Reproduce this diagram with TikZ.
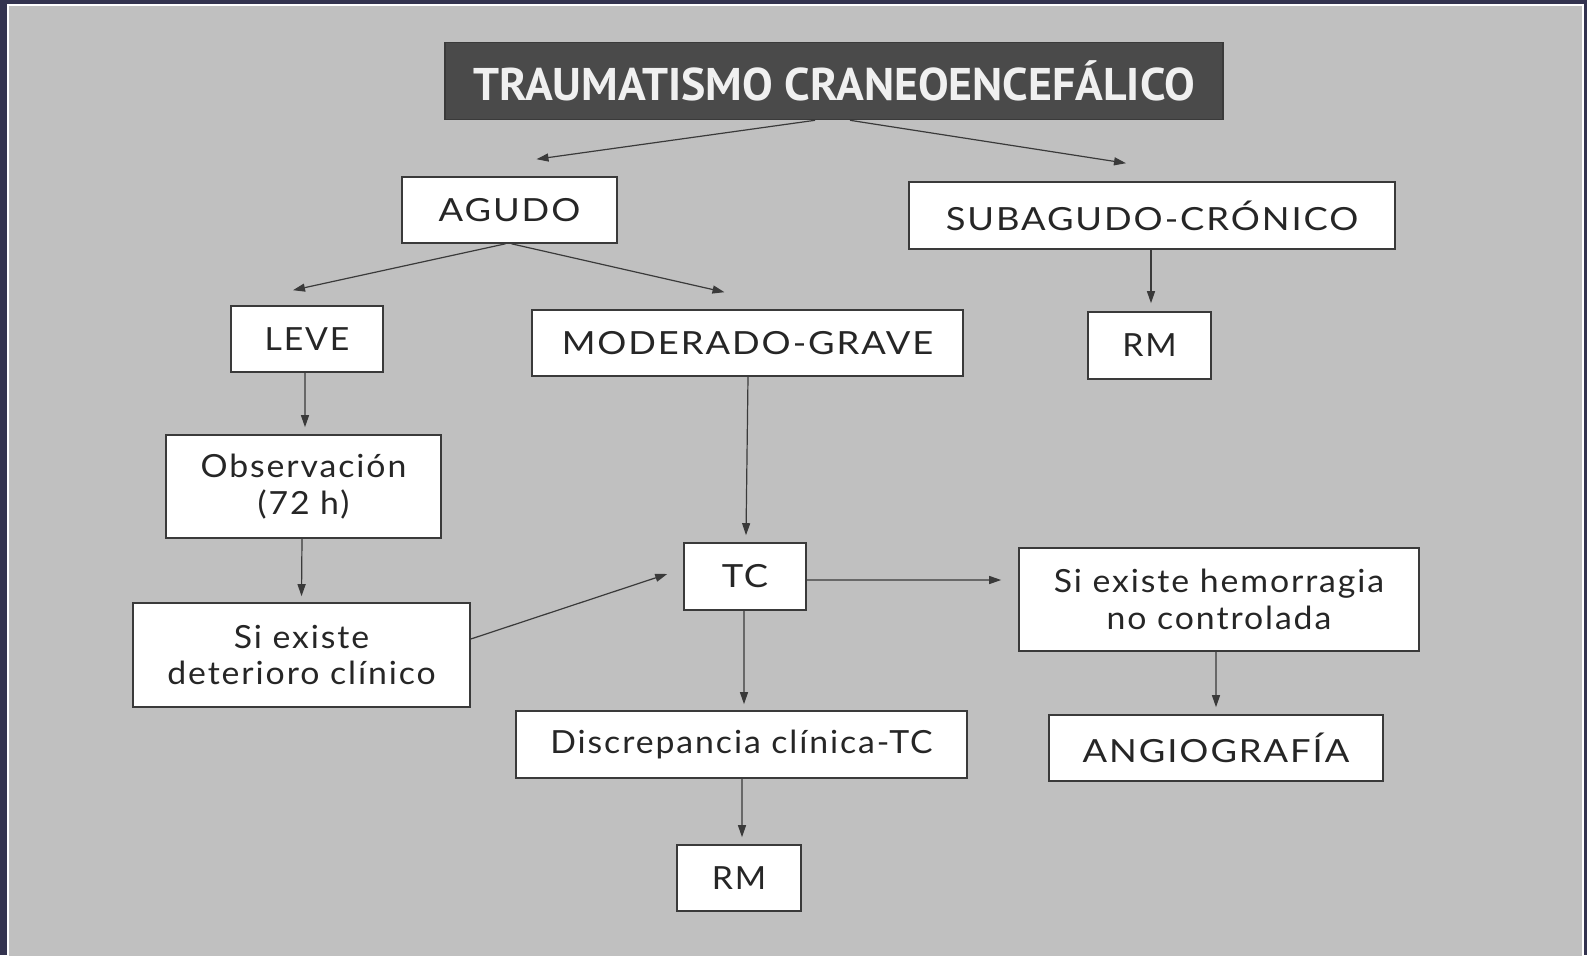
\documentclass[tikz,border=0pt]{standalone}
\usepackage{xcolor}
\usepackage{fontspec}
\setmainfont[LetterSpace=6,FakeStretch=1.06]{Lato}
\newfontfamily\capsfont[LetterSpace=6,FakeStretch=1.14]{Lato}
\newfontfamily\titlefont{PT Sans}
\usetikzlibrary{arrows.meta}
\definecolor{TCEFrame}{HTML}{33334F}
\definecolor{TCEPanel}{HTML}{C0C0C0}
\definecolor{TCELine}{HTML}{3A3A3A}
\definecolor{TCEText}{HTML}{262626}
\definecolor{TCETitle}{HTML}{4A4A4A}
\begin{document}
\begin{tikzpicture}[x=1bp,y=-1bp,
  box/.style={draw=TCELine,fill=white,line width=1.6bp,inner sep=0pt,align=center,
    text=TCEText,font=\fontsize{32}{37}\selectfont},
  widebox/.style={box,font=\capsfont\fontsize{32}{37}\selectfont},
  arr/.style={draw=TCELine,line width=1.2bp,-{Triangle[length=12bp,width=8bp]}}]
\path[use as bounding box] (0,0) rectangle (1587,955);
\fill[TCEFrame] (0,0) rectangle (1587,955);
\fill[TCEPanel] (8,5) rectangle (1583,960);
\draw[white,line width=1.5bp] (8,5) rectangle (1583,960);
\node[draw=TCELine,fill=TCETitle,line width=1.6bp,minimum width=778bp,minimum height=77bp,
  text=white!94!black,font=\titlefont\bfseries\fontsize{46}{46}\selectfont] (title) at (834,81)
  {TRAUMATISMO CRANEOENCEF\'ALICO};
\node[widebox,minimum width=215bp,minimum height=66bp] (agudo) at (509.5,210) {AGUDO};
\node[widebox,minimum width=486bp,minimum height=67bp] (subagudo) at (1152,215.5) {SUBAGUDO-CR\'ONICO};
\node[box,minimum width=152bp,minimum height=66bp] (leve) at (307,339) {LEVE};
\node[widebox,minimum width=431bp,minimum height=66bp] (grave) at (747.5,343) {MODERADO-GRAVE};
\node[box,minimum width=123bp,minimum height=67bp] (rmsub) at (1149.5,345.5) {RM};
\node[box,minimum width=275bp,minimum height=103bp] (observ) at (303.5,486.5) {Observaci\'on\\(72 h)};
\node[box,minimum width=337bp,minimum height=104bp] (deterioro) at (301.5,655) {Si existe\\deterioro cl\'inico};
\node[widebox,minimum width=122bp,minimum height=67bp] (tc) at (745,576.5) {TC};
\node[box,minimum width=400bp,minimum height=103bp] (hemorragia) at (1219,599.5) {Si existe hemorragia\\no controlada};
\node[box,minimum width=451bp,minimum height=67bp] (discrep) at (741.5,744.5) {Discrepancia cl\'inica-TC};
\node[widebox,minimum width=334bp,minimum height=66bp] (angio) at (1216,748) {ANGIOGRAF\'IA};
\node[box,minimum width=124bp,minimum height=66bp] (rmfin) at (739,878) {RM};
\draw[arr] ([xshift=-19bp]title.south) -- ([xshift=27bp,yshift=17bp]agudo.north);
\draw[arr] ([xshift=16bp]title.south) -- ([xshift=-26bp,yshift=18bp]subagudo.north);
\draw[arr] ([xshift=-4bp]agudo.south) -- ([xshift=-14bp,yshift=15bp]leve.north);
\draw[arr] ([xshift=2bp]agudo.south) -- ([xshift=-23bp,yshift=17bp]grave.north);
\draw[arr] ([xshift=-1bp]subagudo.south) -- ([xshift=1.5bp,yshift=8bp]rmsub.north);
\draw[arr] ([xshift=-2bp]leve.south) -- ([xshift=1.5bp,yshift=7bp]observ.north);
\draw[arr] ([xshift=-1.5bp]observ.south) -- ([yshift=6bp]deterioro.north);
\draw[arr] ([xshift=0.5bp]grave.south) -- ([xshift=1bp,yshift=7bp]tc.north);
\draw[arr] ([yshift=16bp]deterioro.east) -- ([xshift=-16bp,yshift=2.5bp]tc.west);
\draw[arr] ([yshift=-3.5bp]tc.east) -- ([xshift=-17bp,yshift=19.5bp]hemorragia.west);
\draw[arr] ([xshift=-1bp]tc.south) -- ([xshift=2.5bp,yshift=6bp]discrep.north);
\draw[arr] ([xshift=-3bp]hemorragia.south) -- ([yshift=7bp]angio.north);
\draw[arr] ([xshift=0.5bp]discrep.south) -- ([xshift=3bp,yshift=7bp]rmfin.north);
\end{tikzpicture}
\end{document}
